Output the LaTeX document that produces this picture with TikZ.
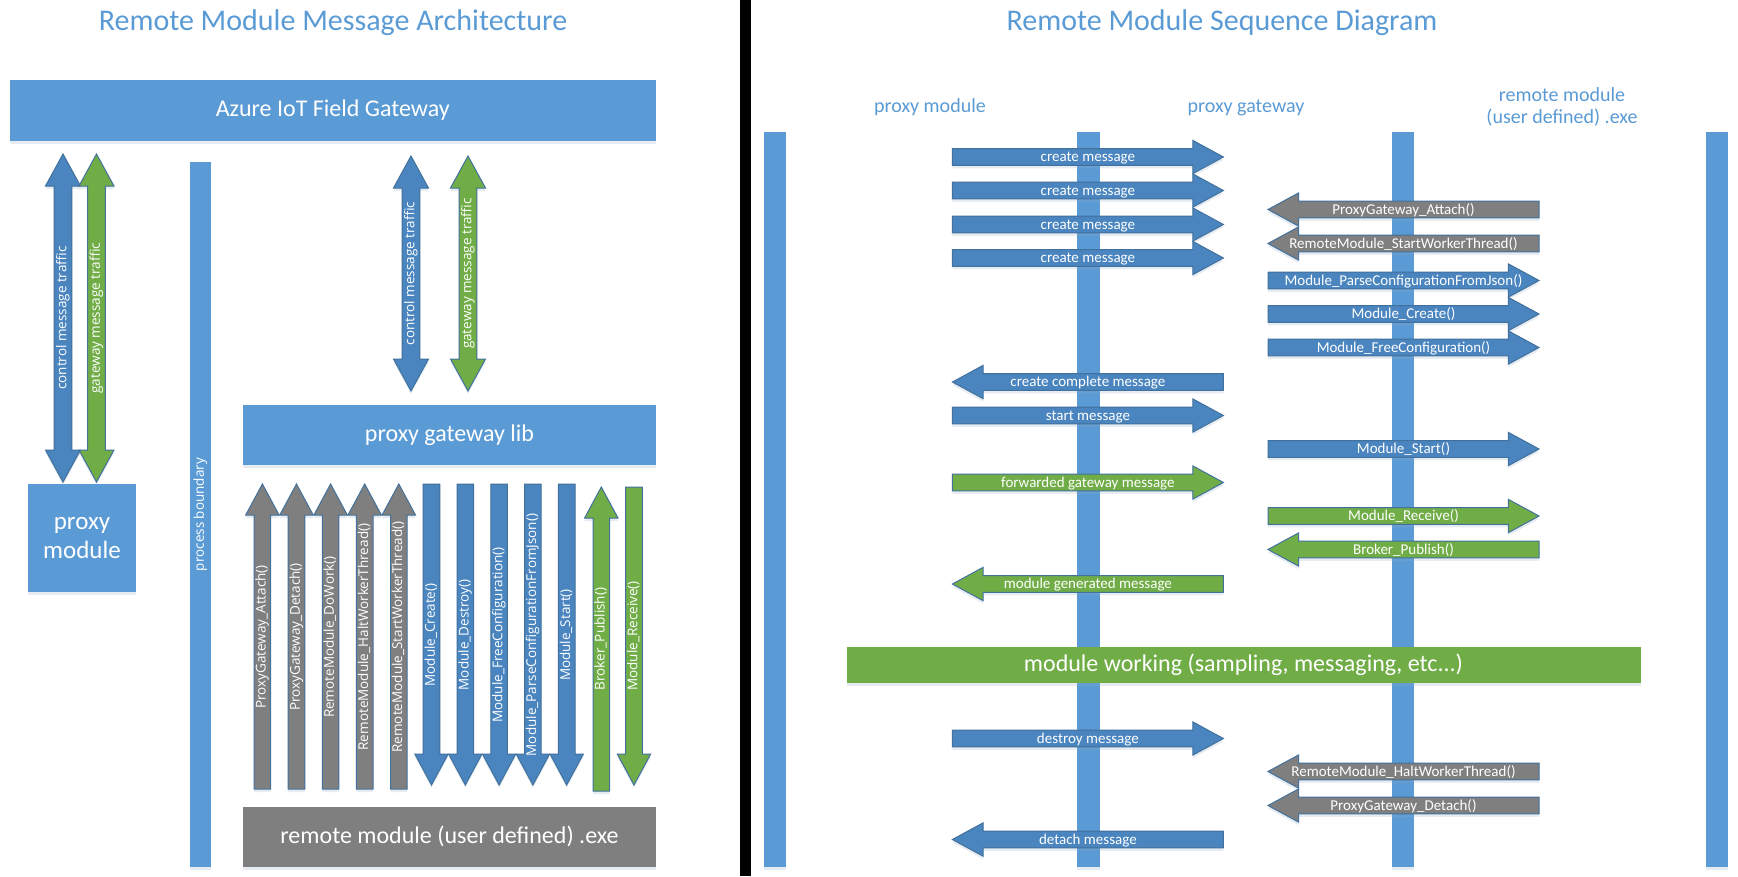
\documentclass[tikz,border=0pt]{standalone}
\usepackage{fontspec}
\setmainfont{Carlito}
\newfontfamily\segfont{Open Sans}
\usetikzlibrary{shadows}
\definecolor{boxblue}{HTML}{5B9BD5}
\definecolor{arrblue}{HTML}{4A85BF}
\definecolor{edgeblue}{HTML}{41719C}
\definecolor{grn}{HTML}{70AD47}
\definecolor{gry}{HTML}{7F7F7F}
\definecolor{titleblue}{HTML}{5B9BD5}
\definecolor{shade}{HTML}{8EA9C8}
\tikzset{
  softshadow/.style={drop shadow={shadow xshift=0pt, shadow yshift=-3pt, opacity=0.22, fill=shade}},
  plainbox/.style={fill=boxblue, draw=none, inner sep=0pt, text=white, font=\fontsize{24}{29}\selectfont, text height=18pt, text depth=6pt, softshadow},
  graybox/.style={plainbox, fill=gry},
  greenbox/.style={plainbox, fill=grn},
  boxtext/.style={text=white, inner sep=0pt, font=\fontsize{25}{30}\selectfont},
  lifeline/.style={fill=boxblue, draw=none, inner sep=0pt, minimum width=22.3pt, minimum height=735pt, softshadow},
  divider/.style={fill=black, draw=none, inner sep=0pt, minimum width=11pt, minimum height=876pt},
  heading/.style={text=titleblue, inner sep=0pt, font=\fontsize{30}{36}\selectfont, text height=22.5pt, text depth=7.5pt},
  colhead/.style={text=titleblue, inner sep=0pt, font=\fontsize{20}{22}\selectfont, align=center},
  blockarrow/.style={draw=edgeblue, line width=1pt, line join=miter, softshadow},
  hlabel/.style={text=white, inner sep=0pt, font=\fontsize{15}{18}\selectfont, text height=12pt, text depth=3pt},
  vlabel/.style={text=white, inner sep=0pt, font=\segfont\fontsize{13.5}{16}\selectfont, rotate=90, text height=10pt, text depth=3.4pt},
}
% horizontal arrow pointing right: name, tail x, tip x, y, colour, label
\newcommand{\arrR}[6]{%
  \filldraw[blockarrow, fill=#5] (#2,#4-8.3) -- (#3-30.6,#4-8.3) -- (#3-30.6,#4-16.6) -- (#3,#4) -- (#3-30.6,#4+16.6) -- (#3-30.6,#4+8.3) -- (#2,#4+8.3) -- cycle;
  \node[hlabel] (#1) at ({(#2+#3)/2},#4) {#6};}
% horizontal arrow pointing left: name, tip x, tail x, y, colour, label
\newcommand{\arrL}[6]{%
  \filldraw[blockarrow, fill=#5] (#3,#4-8.3) -- (#2+30.6,#4-8.3) -- (#2+30.6,#4-16.6) -- (#2,#4) -- (#2+30.6,#4+16.6) -- (#2+30.6,#4+8.3) -- (#3,#4+8.3) -- cycle;
  \node[hlabel] (#1) at ({(#2+#3)/2},#4) {#6};}
% vertical arrow pointing up: name, x, tip y, bottom y, colour, label, label y
\newcommand{\arrU}[7]{%
  \filldraw[blockarrow, fill=#5] (#2-8.3,#4) -- (#2-8.3,#3+31) -- (#2-16.7,#3+31) -- (#2,#3) -- (#2+16.7,#3+31) -- (#2+8.3,#3+31) -- (#2+8.3,#4) -- cycle;
  \node[vlabel] (#1) at (#2,#7) {#6};}
% vertical arrow pointing down: name, x, top y, tip y, colour, label, label y
\newcommand{\arrD}[7]{%
  \filldraw[blockarrow, fill=#5] (#2-8.3,#3) -- (#2-8.3,#4-31) -- (#2-16.7,#4-31) -- (#2,#4) -- (#2+16.7,#4-31) -- (#2+8.3,#4-31) -- (#2+8.3,#3) -- cycle;
  \node[vlabel] (#1) at (#2,#7) {#6};}
% vertical double arrow: name, x, top y, bottom y, colour, label, label y
\newcommand{\arrB}[7]{%
  \filldraw[blockarrow, fill=#5] (#2,#3) -- (#2+17.5,#3+32) -- (#2+8.8,#3+32) -- (#2+8.8,#4-32) -- (#2+17.5,#4-32) -- (#2,#4) -- (#2-17.5,#4-32) -- (#2-8.8,#4-32) -- (#2-8.8,#3+32) -- (#2-17.5,#3+32) -- cycle;
  \node[vlabel] (#1) at (#2,#7) {#6};}
\begin{document}
\begin{tikzpicture}[x=1pt,y=-1pt]
\useasboundingbox (0,0) rectangle (1738,876);
\fill[white] (0,0) rectangle (1738,876);
% ---------------- left panel ----------------
\node[heading] (ltitle) at (333,23) {Remote Module Message Architecture};
\node[plainbox, minimum width=646.5pt, minimum height=61pt] (azure) at (332.75,110.5) {Azure IoT Field Gateway};
\arrB{lctl}{63}{154}{482}{arrblue}{control message traffic}{318}
\arrB{lgw}{96.5}{154}{482}{grn}{gateway message traffic}{318}
\node[plainbox, rotate=90, minimum width=705pt, minimum height=21pt, font=\segfont\fontsize{13.5}{16}\selectfont, text height=10pt, text depth=3.4pt] (procb) at (200.5,514.5) {process boundary};
\arrB{rctl}{411}{156}{391}{arrblue}{control message traffic}{273.5}
\arrB{rgw}{468}{156}{391}{grn}{gateway message traffic}{273.5}
\node[plainbox, minimum width=413pt, minimum height=60pt] (pglib) at (449.5,435) {proxy gateway lib};
\node[plainbox, minimum width=108pt, minimum height=108pt] (pmod) at (82,538) {};
\node[boxtext, anchor=base] (pmodA) at (82,529) {proxy};
\node[boxtext, anchor=base] (pmodB) at (82,558) {module};
\arrU{ga1}{262.4}{484}{789}{gry}{ProxyGateway\_Attach()}{637}
\arrU{ga2}{296.5}{484}{789}{gry}{ProxyGateway\_Detach()}{637}
\arrU{ga3}{330.6}{484}{789}{gry}{RemoteModule\_DoWork()}{637}
\arrU{ga4}{364.7}{484}{789}{gry}{RemoteModule\_HaltWorkerThread()}{637}
\arrU{ga5}{398.8}{484}{789}{gry}{RemoteModule\_StartWorkerThread()}{637}
\arrD{ba1}{431.5}{484}{785}{arrblue}{Module\_Create()}{635}
\arrD{ba2}{465.3}{484}{785}{arrblue}{Module\_Destroy()}{635}
\arrD{ba3}{499.1}{484}{785}{arrblue}{Module\_FreeConfiguration()}{635}
\arrD{ba4}{532.9}{484}{785}{arrblue}{Module\_ParseConfigurationFromJson()}{635}
\arrD{ba5}{566.7}{484}{785}{arrblue}{Module\_Start()}{635}
\arrU{gr1}{601.3}{487}{791}{grn}{Broker\_Publish()}{639}
\arrD{gr2}{634}{487}{785}{grn}{Module\_Receive()}{636}
\node[graybox, minimum width=413pt, minimum height=60pt] (remexe) at (449.5,837) {remote module (user defined) .exe};
% ---------------- divider ----------------
\node[divider] (div) at (745.5,438) {};
% ---------------- right panel ----------------
\node[heading] (rtitle) at (1222,23) {Remote Module Sequence Diagram};
\node[colhead, anchor=base] (hpm) at (930,112) {proxy module};
\node[colhead, anchor=base] (hpg) at (1246,112) {proxy gateway};
\node[colhead] (hrm) at (1562,106.5) {remote module\\(user defined) .exe};
\node[lifeline] (ll1) at (775,499.5) {};
\node[lifeline] (ll2) at (1088.5,499.5) {};
\node[lifeline] (ll3) at (1402.75,499.5) {};
\node[lifeline] (ll4) at (1717.25,499.5) {};
\arrR{m1}{952.4}{1223.4}{157}{arrblue}{create message}
\arrR{m2}{952.4}{1223.4}{190.5}{arrblue}{create message}
\arrR{m3}{952.4}{1223.4}{224.5}{arrblue}{create message}
\arrR{m4}{952.4}{1223.4}{258}{arrblue}{create message}
\arrL{c1}{1268}{1539}{209.5}{gry}{ProxyGateway\_Attach()}
\arrL{c2}{1268}{1539}{243.5}{gry}{RemoteModule\_StartWorkerThread()}
\arrR{c3}{1268}{1539}{280.5}{arrblue}{Module\_ParseConfigurationFromJson()}
\arrR{c4}{1268}{1539}{314}{arrblue}{Module\_Create()}
\arrR{c5}{1268}{1539}{347.5}{arrblue}{Module\_FreeConfiguration()}
\arrL{m5}{952.4}{1223.4}{382}{arrblue}{create complete message}
\arrR{m6}{952.4}{1223.4}{415.5}{arrblue}{start message}
\arrR{c6}{1268}{1539}{449}{arrblue}{Module\_Start()}
\arrR{m7}{952.4}{1223.4}{482.5}{grn}{forwarded gateway message}
\arrR{c7}{1268}{1539}{516}{grn}{Module\_Receive()}
\arrL{c8}{1268}{1539}{549.5}{grn}{Broker\_Publish()}
\arrL{m8}{952.4}{1223.4}{584}{grn}{module generated message}
\node[greenbox, minimum width=794pt, minimum height=35.4pt] (work) at (1243.5,665) {module working (sampling, messaging, etc...)};
\arrR{m9}{952.4}{1223.4}{738.5}{arrblue}{destroy message}
\arrL{c9}{1268}{1539}{771.5}{gry}{RemoteModule\_HaltWorkerThread()}
\arrL{c10}{1268}{1539}{805.5}{gry}{ProxyGateway\_Detach()}
\arrL{m10}{952.4}{1223.4}{839.5}{arrblue}{detach message}
\end{tikzpicture}
\end{document}
